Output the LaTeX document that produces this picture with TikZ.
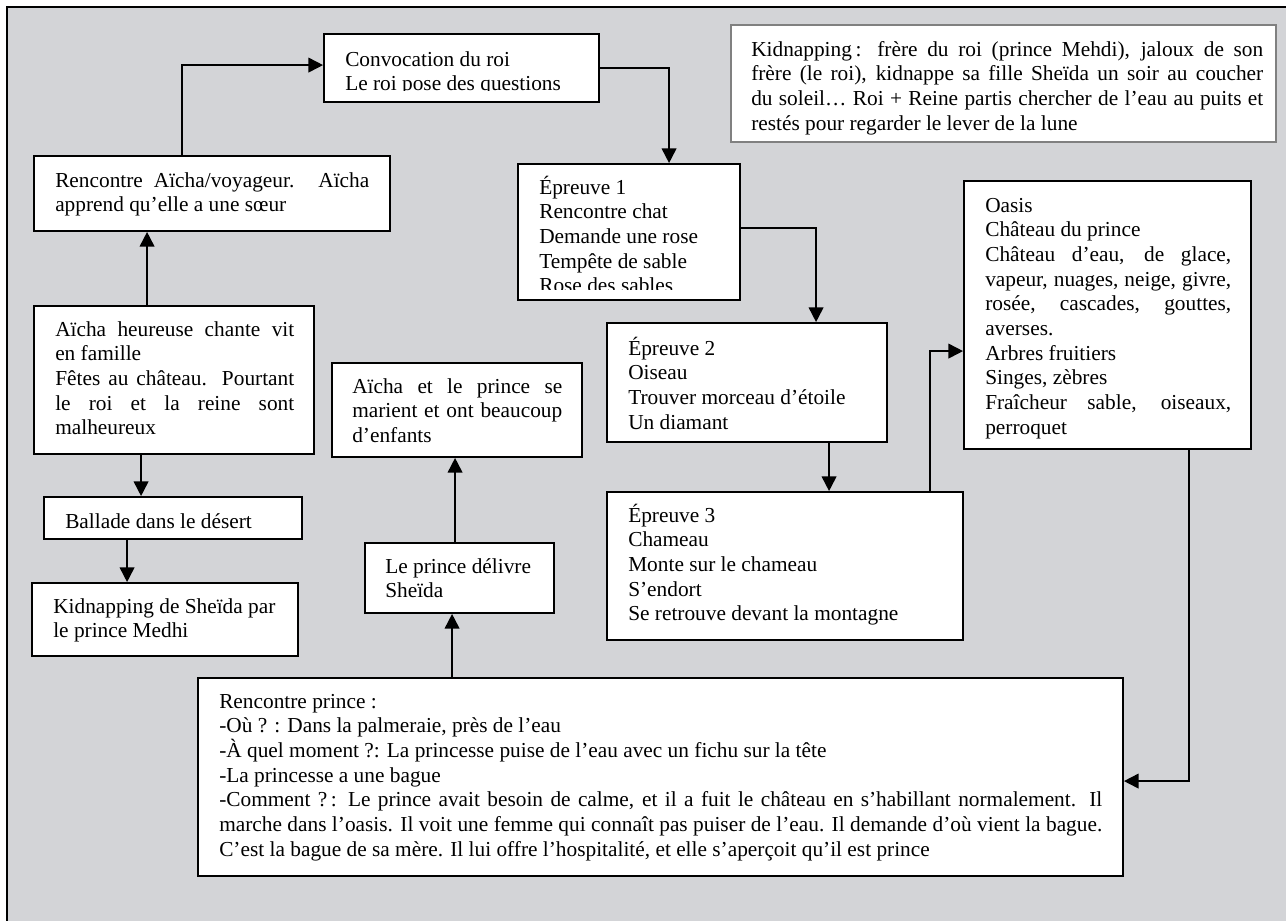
\documentclass[tikz,border=0pt]{standalone}
\usepackage{fontspec}
\setmainfont{Liberation Serif}
\usetikzlibrary{arrows.meta,calc,fit}
\definecolor{bggray}{RGB}{211,212,215}
\definecolor{kidgray}{RGB}{128,128,128}
\newcommand{\justline}[2]{\makebox[#1][s]{#2}}
\newcommand{\firststrut}{\rule{0pt}{16pt}}
\begin{document}
\begin{tikzpicture}[x=0.75pt,y=-0.75pt,
  box/.style={draw=black,line width=1.4pt,fill=white,inner sep=0pt},
  kidbox/.style={draw=kidgray,line width=1.3pt,fill=white,inner sep=0pt},
  txt/.style={anchor=north west,inner sep=0pt,align=left,font=\fontsize{16pt}{18.5pt}\selectfont},
  conn/.style={line width=1.3pt,-{Triangle[length=11pt,width=11pt]}}
]
\useasboundingbox (0,0) rectangle (1286,921);
% background and frame
\fill[bggray] (7,7) rectangle (1286,921);
\draw[line width=1.8pt] (1286,7) -- (7,7) -- (7,921);

% boxes
\node[box,fit={(324,34) (599,102)}] (conv) {};
\node[box,fit={(34,156) (390,231)}] (ra) {};
\node[box,fit={(34,306) (314,454)}] (ah) {};
\node[box,fit={(44,497) (302,539)}] (bal) {};
\node[box,fit={(32,583) (298,656)}] (ks) {};
\node[box,fit={(332,363) (582,457)}] (ap) {};
\node[box,fit={(365,543) (554,613)}] (pd) {};
\node[box,fit={(518,164) (740,300)}] (ep1) {};
\node[box,fit={(607,323) (887,442)}] (ep2) {};
\node[box,fit={(607,492) (963,640)}] (ep3) {};
\node[box,fit={(964,181) (1251,449)}] (oasis) {};
\node[kidbox,fit={(731,25) (1276,142)}] (kid) {};
\node[box,fit={(198,678) (1123,876)}] (rp) {};

% texts
\begin{scope}
\clip (326,36) rectangle (597,90);
\node[txt] (convt) at (345,44.67) {\firststrut Convocation du roi\\Le roi pose des questions};
\end{scope}
\node[txt] (rat) at (55,165.67) {\firststrut\justline{235.5pt}{Rencontre Aïcha/voyageur. Aïcha}\\apprend qu’elle a une sœur};
\node[txt] (aht) at (55,314.67) {\firststrut\justline{179.25pt}{Aïcha heureuse chante vit}\\en famille\\\justline{179.25pt}{Fêtes au château. Pourtant}\\\justline{179.25pt}{le roi et la reine sont}\\malheureux};
\node[txt] (balt) at (65,506.67) {\firststrut Ballade dans le désert};
\node[txt] (kst) at (53,591.67) {\firststrut Kidnapping de Sheïda par\\le prince Medhi};
\node[txt] (apt) at (352,371.67) {\firststrut\justline{157.5pt}{Aïcha et le prince se}\\\justline{157.5pt}{marient et ont beaucoup}\\d’enfants};
\node[txt] (pdt) at (385,551.67) {\firststrut Le prince délivre\\Sheïda};
\begin{scope}
\clip (520,166) rectangle (738,289);
\node[txt] (ep1t) at (539,172.67) {\firststrut Épreuve 1\\Rencontre chat\\Demande une rose\\Tempête de sable\\Rose des sables};
\end{scope}
\node[txt] (ep2t) at (628,333.67) {\firststrut Épreuve 2\\Oiseau\\Trouver morceau d’étoile\\Un diamant};
\node[txt] (ep3t) at (628,500.67) {\firststrut Épreuve 3\\Chameau\\Monte sur le chameau\\S’endort\\Se retrouve devant la montagne};
\node[txt] (oasist) at (985,190.67) {\firststrut Oasis\\Château du prince\\\justline{184.5pt}{Château d’eau, de glace,}\\\justline{184.5pt}{vapeur, nuages, neige, givre,}\\\justline{184.5pt}{rosée, cascades, gouttes,}\\averses.\\Arbres fruitiers\\Singes, zèbres\\\justline{184.5pt}{Fraîcheur sable, oiseaux,}\\perroquet};
\node[txt] (kidt) at (751,34.67) {\firststrut\justline{384pt}{Kidnapping\thinspace: frère du roi (prince Mehdi), jaloux de son}\\\justline{384pt}{frère (le roi), kidnappe sa fille Sheïda un soir au coucher}\\\justline{384pt}{du soleil… Roi + Reine partis chercher de l’eau au puits et}\\restés pour regarder le lever de la lune};
\node[txt] (rpt) at (219,686.67) {\firststrut Rencontre prince :\\-Où ? : Dans la palmeraie, près de l’eau\\-À quel moment ?: La princesse puise de l’eau avec un fichu sur la tête\\-La princesse a une bague\\\justline{662.25pt}{-Comment ?\thinspace: Le prince avait besoin de calme, et il a fuit le château en s’habillant normalement. Il}\\\justline{662.25pt}{marche dans l’oasis. Il voit une femme qui connaît pas puiser de l’eau. Il demande d’où vient la bague.}\\C’est la bague de sa mère. Il lui offre l’hospitalité, et elle s’aperçoit qu’il est prince};

% connectors
\draw[conn] ($(ra.north west)+(149,0)$) |- ($(conv.north west)+(0,32)$);
\draw[conn] (conv.east) -| ($(ep1.north west)+(152,0)$);
\draw[conn] ($(ep1.north east)+(0,65)$) -| ($(ep2.north west)+(210,0)$);
\draw[conn] ($(ep2.south west)+(223,0)$) -- ($(ep3.north west)+(223,0)$);
\draw[conn] ($(ep3.north west)+(324,0)$) |- ($(oasis.north west)+(0,171)$);
\draw[conn] ($(oasis.south west)+(226,0)$) |- ($(rp.north east)+(0,104)$);
\draw[conn] ($(rp.north west)+(255,0)$) -- ($(pd.south west)+(88,0)$);
\draw[conn] ($(pd.north west)+(91,0)$) -- ($(ap.south west)+(124,0)$);
\draw[conn] ($(ah.north west)+(114,0)$) -- ($(ra.south west)+(114,0)$);
\draw[conn] ($(ah.south west)+(108,0)$) -- ($(bal.north west)+(98,0)$);
\draw[conn] ($(bal.south west)+(84,0)$) -- ($(ks.north west)+(96,0)$);
\end{tikzpicture}
\end{document}
